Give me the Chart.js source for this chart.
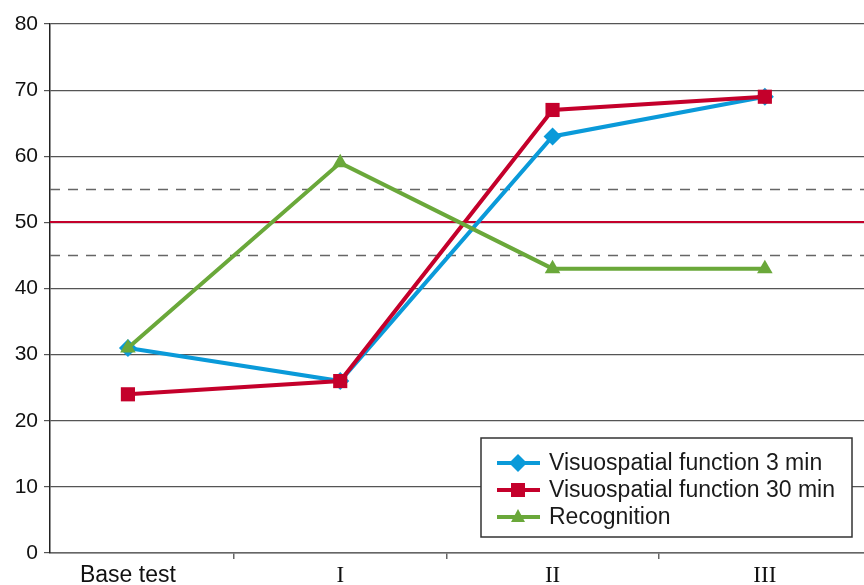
<!DOCTYPE html>
<html>
<head>
<meta charset="utf-8">
<script src="https://cdn.jsdelivr.net/npm/chart.js@4/dist/chart.umd.min.js"></script>
<style>
  html, body { margin: 0; padding: 0; background: #fff; overflow: hidden; }
  #wrap { width: 864px; height: 585px; }
</style>
</head>
<body>
<div id="wrap"><canvas id="chart" width="864" height="585"></canvas></div>
<script>
// categories along the x axis
const categories = ["Base test", "I", "II", "III"];

// series values
const visuo3 = [31, 26, 63, 69];
const visuo30 = [24, 26, 67, 69];
const recognition = [31, 59, 43, 43];

// reference levels: mean and +/- 5
const meanLevel = 50;
const bandLevels = [45, 55];

const blue = "#0a9ad9";
const red = "#c4002b";
const green = "#6aa83a";

const toPoints = (arr) => arr.map((v, i) => ({ x: i, y: v }));

// draws the horizontal reference lines
const refLines = {
  id: "refLines",
  beforeDatasetsDraw(chart) {
    const { ctx, chartArea, scales } = chart;
    ctx.save();
    ctx.lineWidth = 1.5;
    ctx.strokeStyle = "#666";
    ctx.setLineDash([10, 8]);
    bandLevels.forEach((lv) => {
      const y = Math.round(scales.y.getPixelForValue(lv)) + 0.5;
      ctx.beginPath();
      ctx.moveTo(chartArea.left, y);
      ctx.lineTo(chartArea.right, y);
      ctx.stroke();
    });
    ctx.setLineDash([]);
    ctx.strokeStyle = red;
    ctx.lineWidth = 2;
    const ym = Math.round(scales.y.getPixelForValue(meanLevel));
    ctx.beginPath();
    ctx.moveTo(chartArea.left, ym);
    ctx.lineTo(chartArea.right, ym);
    ctx.stroke();
    ctx.restore();
  }
};

// legend box inside the plot, bottom right
const boxLegend = {
  id: "boxLegend",
  afterDatasetsDraw(chart) {
    const ctx = chart.ctx;
    const bx = 481, by = 438, bw = 371, bh = 99;
    ctx.save();
    ctx.fillStyle = "#fff";
    ctx.fillRect(bx, by, bw, bh);
    ctx.strokeStyle = "#333";
    ctx.lineWidth = 1.5;
    ctx.strokeRect(bx, by, bw, bh);
    ctx.font = "23px 'Liberation Sans', Arial, sans-serif";
    ctx.textBaseline = "middle";
    chart.data.datasets.forEach((ds, i) => {
      const y = by + 25 + i * 27;
      ctx.strokeStyle = ds.borderColor;
      ctx.lineWidth = 4;
      ctx.beginPath();
      ctx.moveTo(497, y);
      ctx.lineTo(540, y);
      ctx.stroke();
      ctx.fillStyle = ds.borderColor;
      const cx = 518;
      ctx.beginPath();
      if (ds.pointStyle === "rectRot") {
        ctx.moveTo(cx, y - 9); ctx.lineTo(cx + 9, y); ctx.lineTo(cx, y + 9); ctx.lineTo(cx - 9, y);
      } else if (ds.pointStyle === "rect") {
        ctx.rect(cx - 7, y - 7, 14, 14);
      } else {
        ctx.moveTo(cx, y - 8); ctx.lineTo(cx + 7, y + 5); ctx.lineTo(cx - 7, y + 5);
      }
      ctx.closePath();
      ctx.fill();
      ctx.fillStyle = "#1a1a1a";
      ctx.fillText(ds.label, 549, y + 1);
    });
    ctx.restore();
  }
};

const sansFont = { family: "'Liberation Sans', Arial, sans-serif", size: 23 };
const serifFont = { family: "'Liberation Serif', 'Times New Roman', serif", size: 23 };

new Chart(document.getElementById("chart"), {
  type: "line",
  plugins: [refLines, boxLegend],
  data: {
    datasets: [
      {
        label: "Visuospatial function 3 min",
        data: toPoints(visuo3),
        borderColor: blue,
        backgroundColor: blue,
        pointStyle: "rectRot",
        pointRadius: 9,
        borderWidth: 4,
        pointBorderWidth: 0,
        order: 3
      },
      {
        label: "Visuospatial function 30 min",
        data: toPoints(visuo30),
        borderColor: red,
        backgroundColor: red,
        pointStyle: "rect",
        pointRadius: 10,
        borderWidth: 4,
        pointBorderWidth: 0,
        order: 2
      },
      {
        label: "Recognition",
        data: toPoints(recognition),
        borderColor: green,
        backgroundColor: green,
        pointStyle: "triangle",
        pointRadius: 9,
        borderWidth: 4,
        pointBorderWidth: 0,
        order: 1
      }
    ]
  },
  options: {
    responsive: false,
    animation: false,
    layout: { autoPadding: false, padding: { top: 24, right: 0, left: 0, bottom: 0 } },
    plugins: {
      legend: { display: false },
      tooltip: { enabled: false }
    },
    scales: {
      x: {
        type: "linear",
        min: -0.367,
        max: 3.467,
        afterBuildTicks: (scale) => {
          scale.ticks = [0, 0.5, 1, 1.5, 2, 2.5, 3].map((v) => ({ value: v }));
        },
        afterFit: (scale) => {
          scale.height = 32;
          scale.paddingLeft = 0;
          scale.paddingRight = 0;
        },
        border: { color: "#666", width: 1.5 },
        grid: {
          drawOnChartArea: false,
          tickLength: 6,
          color: (ctx) => (ctx.tick && Number.isInteger(ctx.tick.value) ? "rgba(0,0,0,0)" : "#666"),
          lineWidth: 1.5
        },
        ticks: {
          autoSkip: false,
          maxRotation: 0,
          padding: 3,
          color: "#111",
          font: (ctx) => (ctx.tick && ctx.tick.value === 0 ? sansFont : serifFont),
          callback: (v) => (Number.isInteger(v) ? categories[v] : "")
        }
      },
      y: {
        min: 0,
        max: 80,
        afterFit: (scale) => { scale.width = 50; },
        border: { color: "#222", width: 1.5 },
        grid: {
          color: "#555",
          lineWidth: 1.2,
          tickLength: 6
        },
        ticks: {
          stepSize: 10,
          padding: 6,
          color: "#111",
          font: { family: "'Liberation Sans', Arial, sans-serif", size: 21 }
        }
      }
    }
  }
});
</script>
</body>
</html>
